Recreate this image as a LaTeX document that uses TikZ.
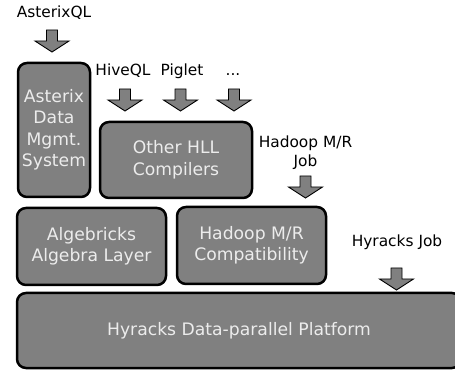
\documentclass[tikz,border=0pt]{standalone}
\usepackage{fontspec}
\setmainfont{DejaVu Sans}
\definecolor{boxgray}{RGB}{128,128,128}
\definecolor{boxtext}{RGB}{236,236,236}
\begin{document}
\begin{tikzpicture}[x=1pt,y=-1pt,
  layer/.style={draw=black, line width=2.5pt, fill=boxgray, rounded corners=9pt,
    text=boxtext, align=center, inner sep=0pt, font=\fontsize{17.2}{21.5}\selectfont},
  lbl/.style={font=\fontsize{15.4}{19}\selectfont, align=center, inner sep=0pt, text=black},
  blockarrow/.style={draw=black, line width=0.9pt, fill=boxgray, line join=miter},
  downarrow/.pic={\path[blockarrow] (-5.5,0) -- (5.5,0) -- (5.5,11) -- (17,11)
      -- (0,22) -- (-17,11) -- (-5.5,11) -- cycle;}]
\useasboundingbox (0,0) rectangle (455,371);
\clip (0,0) rectangle (455,371);

% layer boxes
\node[layer, minimum width=72pt, minimum height=134pt] (asterix) at (54,130)
  {Asterix\\Data\\Mgmt.\\System};
\node[layer, minimum width=152pt, minimum height=76pt] (hll) at (176,160)
  {Other HLL\\Compilers};
\node[layer, minimum width=149pt, minimum height=77pt] (algebricks) at (91.5,246.5)
  {Algebricks\\Algebra Layer};
\node[layer, minimum width=149pt, minimum height=77pt] (hadoopcompat) at (251.5,245.5)
  {Hadoop M/R\\Compatibility};
\node[layer, minimum width=444pt, minimum height=75pt] (hyracks) at (239,330.5)
  {Hyracks Data-parallel Platform};

% input labels
\node[lbl, anchor=base] (aql) at (54,18) {AsterixQL};
\node[lbl, anchor=base] (hiveql) at (123,76) {HiveQL};
\node[lbl, anchor=base] (piglet) at (182,76) {Piglet};
\node[lbl, anchor=base] (dots) at (233,76) {...};
\node[lbl] (mrjob) at (305.5,152.5) {Hadoop M/R\\Job};
\node[lbl, anchor=base] (hjob) at (397,247) {Hyracks Job};

% block arrows
\pic (a1) at (52,30) {downarrow};
\pic (a2) at (125,89) {downarrow};
\pic (a3) at (180.5,89) {downarrow};
\pic (a4) at (234,89) {downarrow};
\pic (a5) at (305.5,176) {downarrow};
\pic (a6) at (396.5,268) {downarrow};
\end{tikzpicture}
\end{document}
